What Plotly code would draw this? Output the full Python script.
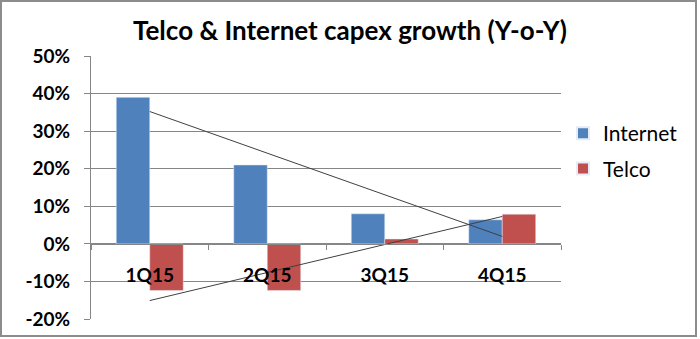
import numpy as np
import plotly.graph_objects as go

quarters = ["1Q15", "2Q15", "3Q15", "4Q15"]
internet = [39.0, 21.0, 8.0, 6.4]
telco = [-12.4, -12.4, 1.3, 7.9]
y_ticks = [-20, -10, 0, 10, 20, 30, 40, 50]
y_tick_text = [f"{v}%" for v in y_ticks]

title_text = "Telco & Internet capex growth (Y-o-Y)"
FONT = "Lato"

W, H = 700, 339
L, R, T, B = 91, 139, 56, 20
PW, PH = W - L - R, H - T - B

def trend(vals):
    xi = np.arange(1, len(vals) + 1)
    k, c = np.polyfit(xi, vals, 1)
    return list(k * xi + c)

fig = go.Figure()
fig.add_trace(go.Bar(x=quarters, y=internet, name="Internet", marker_color="#4F81BD", legendgroup="a"))
fig.add_trace(go.Bar(x=quarters, y=telco, name="Telco", marker_color="#C0504D", legendgroup="b"))
fig.add_trace(go.Scatter(x=quarters, y=trend(internet), mode="lines",
                         line=dict(color="#404040", width=1), showlegend=False, hoverinfo="skip"))
fig.add_trace(go.Scatter(x=quarters, y=trend(telco), mode="lines",
                         line=dict(color="#404040", width=1), showlegend=False, hoverinfo="skip"))

def px_x(x):
    return (x - L) / PW

def px_y(y):
    return (H - B - y) / PH

fig.update_layout(
    width=W, height=H,
    margin=dict(l=L, r=R, t=T, b=B, pad=0, autoexpand=False),
    paper_bgcolor="white", plot_bgcolor="white",
    barmode="group", bargap=0.43, bargroupgap=0,
    font=dict(family=FONT, color="black"),
    title=dict(text="<b>" + title_text + "</b>", x=(350 - L) / PW, xref="paper", xanchor="center",
               y=1 - 31 / H, yanchor="middle", font=dict(size=26, family=FONT, color="black")),
    showlegend=True,
    legend=dict(x=px_x(563), y=px_y(113), xanchor="left", yanchor="top",
                font=dict(size=21, family=FONT, color="black"),
                bgcolor="rgba(0,0,0,0)", itemsizing="constant", tracegroupgap=5),
    xaxis=dict(type="category", anchor="free", position=20 / 70,
               showline=True, linecolor="#868686", linewidth=1,
               ticks="outside", ticklen=5, tickcolor="#868686", tickson="boundaries",
               ticklabelstandoff=14,
               tickfont=dict(size=19, family=FONT, color="black"), showgrid=False,
               range=[-0.5, 3.5], fixedrange=True),
    yaxis=dict(range=[-20, 50], tickvals=y_ticks, ticktext=["<b>" + t + "</b>" for t in y_tick_text],
               showline=True, linecolor="#868686", linewidth=1,
               ticks="outside", ticklen=6, tickcolor="#868686",
               showgrid=True, gridcolor="#868686", gridwidth=1,
               zeroline=True, zerolinecolor="#868686", zerolinewidth=1,
               ticklabelstandoff=10,
               tickfont=dict(size=19, family=FONT, color="black")),
    shapes=[dict(type="rect", xref="paper", yref="paper",
                 x0=px_x(1), x1=px_x(696), y0=px_y(336), y1=px_y(1),
                 line=dict(color="#8c8c8c", width=2), layer="above")],
)
fig.update_xaxes(ticktext=["<b>" + q + "</b>" for q in quarters], tickvals=quarters)

fig.write_html("out.html")
